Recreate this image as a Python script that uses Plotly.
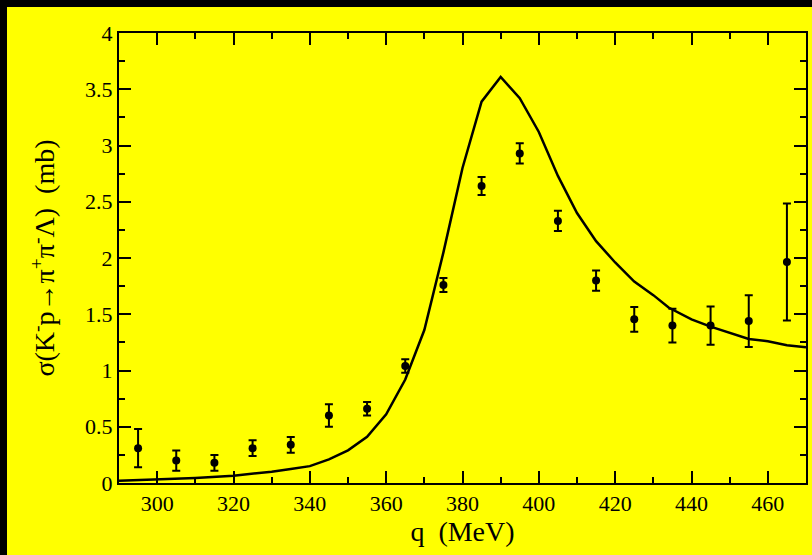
import plotly.graph_objects as go

# Experimental data
q_data = [295, 305, 315, 325, 335, 345, 355, 365, 375, 385, 395, 405, 415, 425, 435, 445, 455, 465]
sigma_data = [0.31, 0.20, 0.18, 0.31, 0.34, 0.60, 0.66, 1.04, 1.76, 2.64, 2.93, 2.33, 1.80, 1.455, 1.40, 1.40, 1.44, 1.965]
sigma_err = [0.17, 0.09, 0.07, 0.07, 0.07, 0.10, 0.06, 0.06, 0.063, 0.08, 0.09, 0.09, 0.09, 0.11, 0.15, 0.17, 0.23, 0.52]

# Theory curve
q_curve = [290, 300, 310, 320, 330, 335, 340, 345, 350, 355, 360, 365, 370, 375, 380, 385, 390, 395,
           400, 405, 410, 415, 420, 425, 430, 434, 440, 445, 450, 455, 460, 465, 470]
sigma_curve = [0.02, 0.03, 0.045, 0.065, 0.10, 0.125, 0.15, 0.21, 0.29, 0.41, 0.61, 0.92, 1.36, 2.05,
               2.80, 3.39, 3.61, 3.42, 3.12, 2.73, 2.40, 2.15, 1.96, 1.79, 1.67, 1.56, 1.455, 1.39,
               1.336, 1.28, 1.26, 1.224, 1.206]

font_family = "Liberation Serif"

fig = go.Figure()
fig.add_trace(go.Scatter(
    x=q_curve, y=sigma_curve, mode="lines",
    line=dict(color="black", width=2.5), hoverinfo="skip", showlegend=False))
fig.add_trace(go.Scatter(
    x=q_data, y=sigma_data, mode="markers",
    marker=dict(color="black", size=8),
    error_y=dict(type="data", array=sigma_err, color="black", thickness=2, width=4),
    showlegend=False))

# Black outer border strips (top and left) on a yellow page
L, R, T, B = 119, 6, 33, 72
W, H = 812, 555
pw, ph = W - L - R, H - T - B


def px_x(p):
    return (p - L) / pw


def px_y(p):
    return (T + ph - p) / ph


fig.add_shape(type="rect", xref="paper", yref="paper", layer="below",
              x0=px_x(-5), x1=px_x(W + 5), y0=px_y(7), y1=px_y(-5),
              fillcolor="black", line=dict(width=0))
fig.add_shape(type="rect", xref="paper", yref="paper", layer="below",
              x0=px_x(-5), x1=px_x(7), y0=px_y(H + 5), y1=px_y(-5),
              fillcolor="black", line=dict(width=0))

axis_common = dict(
    showline=True, linecolor="black", linewidth=2, mirror="allticks",
    ticks="inside", tickcolor="black", tickwidth=2, ticklen=12,
    showgrid=False, zeroline=False,
    tickfont=dict(family=font_family, size=22, color="black"),
)

fig.update_xaxes(range=[290, 470], dtick=20, tick0=300,
                 minor=dict(dtick=10, ticks="inside", ticklen=6, tickwidth=2, tickcolor="black"),
                 title=dict(text="q\u00a0\u00a0(MeV)", font=dict(family=font_family, size=28, color="black"), standoff=1),
                 **axis_common)
fig.update_yaxes(range=[0, 4], dtick=0.5, tick0=0,
                 minor=dict(dtick=0.25, ticks="inside", ticklen=6, tickwidth=2, tickcolor="black"),
                 title=dict(text="\u03c3(K<sup>-</sup>p\u2192\u03c0<sup>+</sup>\u03c0<sup>-</sup>\u039b)\u00a0\u00a0(mb)",
                            font=dict(family=font_family, size=28, color="black"), standoff=22),
                 **axis_common)

fig.update_layout(
    width=W, height=H,
    margin=dict(l=L, r=R, t=T, b=B, autoexpand=False),
    paper_bgcolor="#ffff00", plot_bgcolor="#ffff00",
    font=dict(family=font_family, color="black"),
)

fig.write_html(
    "out.html",
    post_script=(
        "document.documentElement.style.overflow='hidden';"
        "document.body.style.overflow='hidden';"
        "document.body.style.margin='0';"
        "document.body.style.background='#ffff00';"
        "document.documentElement.style.background='#ffff00';"
    ),
)
